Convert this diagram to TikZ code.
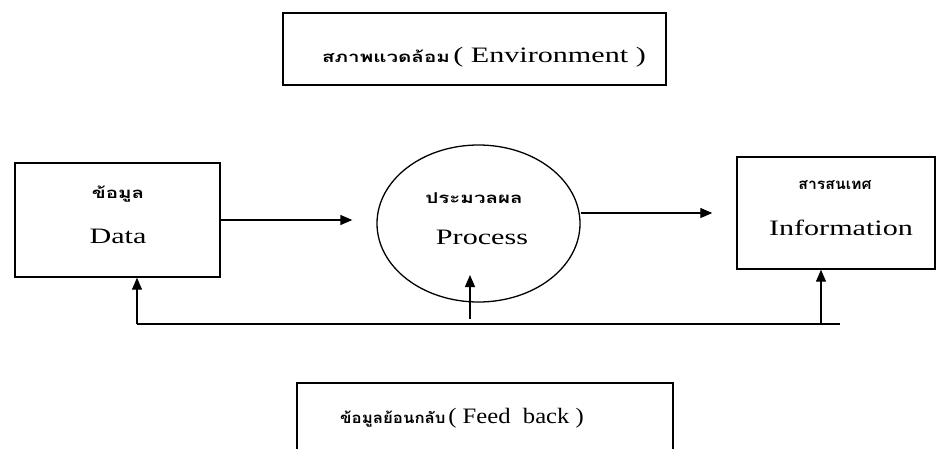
\documentclass[tikz,border=0pt]{standalone}
\usepackage{fontspec}
\usepackage{graphicx}
\setmainfont{Liberation Serif}
\newfontfamily\thai[Script=Thai]{Loma}
\usetikzlibrary{arrows.meta,shapes.geometric}
\newcommand\hsc[1]{\scalebox{1.37}[1]{#1}}
\begin{document}
\begin{tikzpicture}[x=1pt,y=-1pt,
  box/.style={draw,line width=1.4pt,rectangle,inner sep=0pt},
  lat/.style={font=\fontsize{22}{24}\selectfont,inner sep=0pt},
  th/.style={font=\thai\fontsize{15}{17}\selectfont\bfseries,inner sep=0pt},
  arr/.style={line width=1.3pt,-{Triangle[length=12pt,width=10pt]}},
  ln/.style={line width=1.3pt}]
\useasboundingbox (0,0) rectangle (937,448);
% boxes
\node[box,minimum width=383pt,minimum height=72pt] (env) at (474.5,49) {};
\node[box,minimum width=205pt,minimum height=114pt] (data) at (117.5,220) {};
\node[draw,line width=1.3pt,ellipse,minimum width=203pt,minimum height=157pt,inner sep=0pt] (proc) at (478.5,223.5) {};
\node[box,minimum width=198pt,minimum height=112pt] (info) at (836,213) {};
\node[box,minimum width=376pt,minimum height=70pt] (fb) at (485,418) {};
% texts
\node[inner sep=0pt] (envt) at (484,57) {\hsc{{\thai\bfseries\fontsize{15}{17}\selectfont สภาพแวดล้อม} {\fontsize{22}{24}\selectfont( Environment )}}};
\node[th] (datat) at (118,194) {\hsc{ข้อมูล}};
\node[lat] (datal) at (118,236) {\hsc{Data}};
\node[th] (proct) at (474,198) {\hsc{ประมวลผล}};
\node[lat] (procl) at (482,237) {\hsc{Process}};
\node[th] (infot) at (835,185) {\scalebox{1.05}[1]{สารสนเทศ}};
\node[lat] (infol) at (841,228) {\hsc{Information}};
\node[inner sep=0pt] (fbt) at (462,418) {\scalebox{1.12}[1]{{\thai\bfseries\fontsize{15}{17}\selectfont ข้อมูลย้อนกลับ} {\fontsize{22}{24}\selectfont( Feed\ \ back )}}};
% forward arrows
\draw[arr,shorten >=24pt] (data.east) -- (data.east -| proc.west);
\draw[arr,shorten >=24pt] (proc.east |- info.west) -- (info.west);
% feedback line
\coordinate (fbL) at (137,324);
\coordinate (fbR) at (840,324);
\coordinate (fbM) at (470,319);
\coordinate (fbMt) at (470,275);
\coordinate (fbI) at (821,324);
\draw[ln] (fbL) -- (fbR);
\draw[arr] (fbL) -- (fbL |- data.south);
\draw[arr] (fbM) -- (fbMt);
\draw[arr] (fbI) -- (fbI |- info.south);
\end{tikzpicture}
\end{document}
